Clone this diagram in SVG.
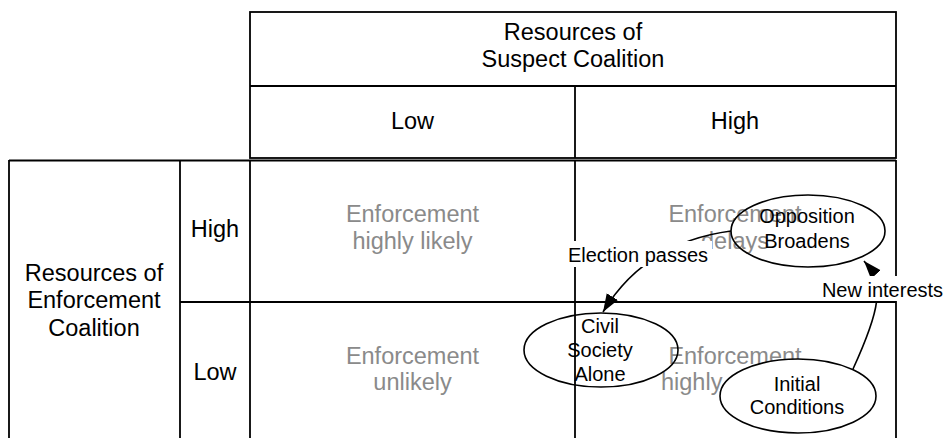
<svg xmlns="http://www.w3.org/2000/svg" width="944" height="438" viewBox="0 0 944 438">
  <defs>
    <style>
      .grid { stroke: #000; stroke-width: 1.8; fill: none; }
      .hdr { font-family: "Liberation Sans", Arial, Helvetica, sans-serif; font-size: 23.5px; fill: #000; text-anchor: middle; }
      .cell { font-family: "Liberation Sans", Arial, Helvetica, sans-serif; font-size: 23.5px; fill: #8a8a8a; text-anchor: middle; }
      .node { stroke: #000; stroke-width: 1.6; }
      .ntxt { font-family: "Liberation Sans", Arial, Helvetica, sans-serif; font-size: 20px; fill: #000; text-anchor: middle; }
      .edge { stroke: #000; stroke-width: 1.6; fill: none; marker-end: url(#arrow); }
      .lbl-bg { fill: #fff; }
    </style>
    <marker id="arrow" markerUnits="userSpaceOnUse" markerWidth="20" markerHeight="16" viewBox="0 0 20 16" refX="18" refY="8" orient="auto">
      <path d="M0,1.5 L18,8 L0,14.5 Z" fill="#000"/>
    </marker>
  </defs>

  <!-- table frame -->
  <g id="table">
    <rect class="grid" x="250" y="12" width="646" height="146"/>
    <line class="grid" x1="250" y1="86" x2="896" y2="86"/>
    <line class="grid" x1="575" y1="86" x2="575" y2="158"/>
    <line class="grid" x1="9" y1="160.5" x2="896" y2="160.5"/>
    <line class="grid" x1="9" y1="160" x2="9" y2="440"/>
    <line class="grid" x1="180" y1="160" x2="180" y2="440"/>
    <line class="grid" x1="250" y1="160" x2="250" y2="440"/>
    <line class="grid" x1="575" y1="160" x2="575" y2="440"/>
    <line class="grid" x1="896" y1="160" x2="896" y2="440"/>
    <line class="grid" x1="180" y1="302" x2="896" y2="302"/>

    <text class="hdr" x="573" y="40">Resources of</text>
    <text class="hdr" x="573" y="67">Suspect Coalition</text>
    <text class="hdr" x="412.5" y="129">Low</text>
    <text class="hdr" x="735" y="129">High</text>
    <text class="hdr" x="94" y="281">Resources of</text>
    <text class="hdr" x="94" y="308">Enforcement</text>
    <text class="hdr" x="94" y="336">Coalition</text>
    <text class="hdr" x="215" y="237">High</text>
    <text class="hdr" x="215" y="380">Low</text>

    <text class="cell" x="412.5" y="222">Enforcement</text>
    <text class="cell" x="412.5" y="248.5">highly likely</text>
    <text class="cell" x="735" y="222">Enforcement</text>
    <text class="cell" x="735" y="248.5">delays</text>
    <text class="cell" x="412.5" y="364">Enforcement</text>
    <text class="cell" x="412.5" y="390">unlikely</text>
    <text class="cell" x="735" y="364">Enforcement</text>
    <text class="cell" x="661" y="390" style="text-anchor:start">highly</text>
  </g>

  <!-- connectors -->
  <g id="connectors">
    <path class="edge" d="M731,231 Q645,242.5 603,312"/>
    <path class="edge" d="M853,369 C880,310 885,285 864,261"/>
    <rect class="lbl-bg" x="566" y="241" width="146" height="26"/>
    <text class="ntxt" x="638" y="262">Election passes</text>
    <rect class="lbl-bg" x="821" y="276" width="123" height="25"/>
    <text class="ntxt" x="882.5" y="297">New interests</text>
  </g>

  <g id="opposition-broadens">
    <ellipse class="node" cx="808" cy="231" rx="77" ry="36" fill="none"/>
    <text class="ntxt" x="807" y="223">Opposition</text>
    <text class="ntxt" x="807" y="248">Broadens</text>
  </g>

  <g id="civil-society-alone">
    <ellipse class="node" cx="601" cy="350" rx="77" ry="37" fill="none"/>
    <text class="ntxt" x="600" y="333">Civil</text>
    <text class="ntxt" x="600" y="357">Society</text>
    <text class="ntxt" x="600" y="381">Alone</text>
  </g>

  <g id="initial-conditions">
    <ellipse class="node" cx="798" cy="396" rx="78" ry="37" fill="#fff"/>
    <text class="ntxt" x="797" y="391">Initial</text>
    <text class="ntxt" x="797" y="413.5">Conditions</text>
  </g>
</svg>
